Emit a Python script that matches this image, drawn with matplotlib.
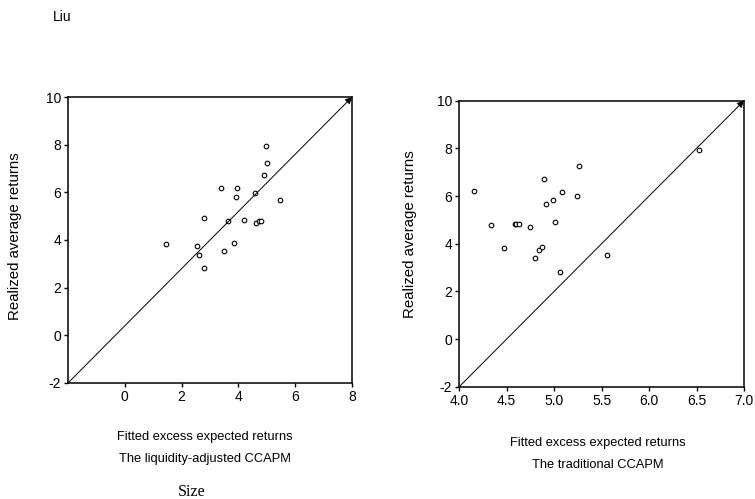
import matplotlib.pyplot as plt

plt.rcParams['font.family'] = ['Liberation Sans', 'DejaVu Sans']
plt.rcParams['axes.unicode_minus'] = False

# realized average returns (same portfolios in both panels)
realized = [3.82, 3.76, 3.38, 2.84, 4.94, 6.20, 3.52, 4.78, 3.87, 5.82,
            6.19, 4.83, 5.98, 4.70, 4.79, 4.81, 6.71, 7.93, 7.25, 5.68]
# fitted returns, liquidity-adjusted CCAPM
fitted_liq = [1.44, 2.53, 2.62, 2.79, 2.78, 3.39, 3.48, 3.64, 3.84, 3.93,
              3.95, 4.19, 4.60, 4.61, 4.74, 4.78, 4.89, 4.98, 5.00, 5.48]

realized_trad = [6.20, 4.78, 3.82, 4.81, 4.81, 4.81, 4.69, 3.39, 3.74, 3.87,
                 6.70, 5.68, 5.83, 4.93, 2.83, 6.18, 5.99, 7.24, 3.52, 7.92]
# fitted returns, traditional CCAPM
fitted_trad = [4.16, 4.33, 4.47, 4.59, 4.60, 4.63, 4.75, 4.80, 4.84, 4.87,
               4.89, 4.91, 4.99, 5.01, 5.06, 5.08, 5.24, 5.26, 5.56, 6.53]

left_xticks = [0, 2, 4, 6, 8]
right_xticks = [4.0, 4.5, 5.0, 5.5, 6.0, 6.5, 7.0]
yticks = [-2, 0, 2, 4, 6, 8, 10]

fig = plt.figure(figsize=(7.55, 4.99), dpi=100)


def panel(rect, x, y, xlim, xticks, xfmt):
    ax = fig.add_axes(rect)
    ax.plot(x, y, 'o', ms=3.3, mfc='white', mec='black', mew=0.8, ls='none')
    ax.annotate('', xy=(xlim[1], 10), xytext=(xlim[0], -2),
                arrowprops=dict(arrowstyle='-|>', color='black', lw=0.7,
                                mutation_scale=10, shrinkA=0, shrinkB=0),
                annotation_clip=False)
    ax.set_xlim(xlim)
    ax.set_ylim(-2, 10)
    ax.set_xticks(xticks)
    ax.set_xticklabels([xfmt.format(t) for t in xticks])
    ax.set_yticks(yticks)
    ax.tick_params(direction='out', length=3, width=1, labelsize=10, pad=2,
                   top=False, right=False)
    for s in ax.spines.values():
        s.set_linewidth(1.1)
    return ax


panel([0.0901, 0.2325, 0.3762, 0.5731], fitted_liq, realized,
      (-2, 8), left_xticks, '{:g}')
panel([0.6083, 0.2251, 0.3771, 0.5731], fitted_trad, realized_trad,
      (4.0, 7.0), right_xticks, '{:.1f}')

fig.text(53 / 755, 1 - 17 / 499, 'Liu', fontsize=10, va='center')

fig.text(15 / 755, 1 - 236 / 499, 'Realized average returns', rotation=90,
         fontsize=10.8, ha='center', va='center')
fig.text(410 / 755, 1 - 234 / 499, 'Realized average returns', rotation=90,
         fontsize=10.8, ha='center', va='center')

fig.text(205 / 755, 1 - 437 / 499, 'Fitted excess expected returns',
         fontsize=9.3, ha='center', va='center')
fig.text(205 / 755, 1 - 459 / 499, 'The liquidity-adjusted CCAPM',
         fontsize=9.3, ha='center', va='center')
fig.text(598 / 755, 1 - 443 / 499, 'Fitted excess expected returns',
         fontsize=9.3, ha='center', va='center')
fig.text(598 / 755, 1 - 465 / 499, 'The traditional CCAPM',
         fontsize=9.3, ha='center', va='center')
fig.text(192 / 755, 1 - 492 / 499, 'Size', fontsize=11.5,
         family='Liberation Serif', ha='center', va='center')

fig.savefig('out.png', dpi=100)
